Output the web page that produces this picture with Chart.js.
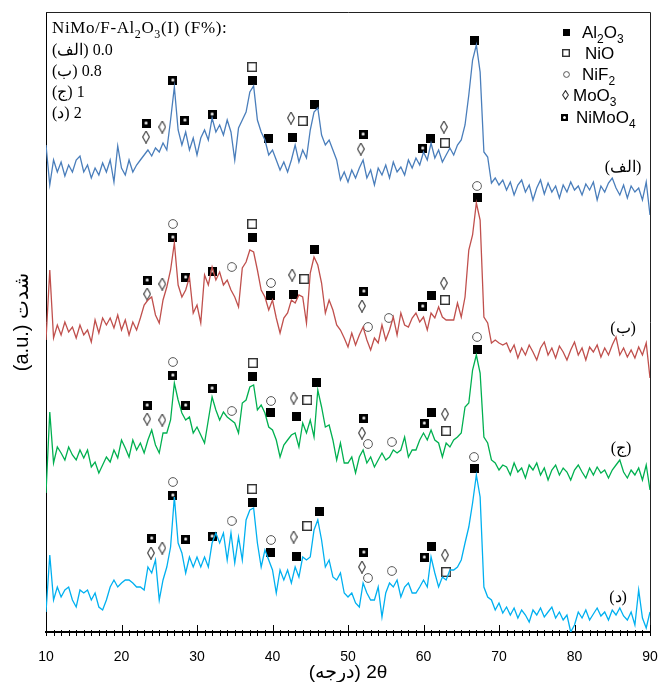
<!DOCTYPE html>
<html><head><meta charset="utf-8">
<script src="https://cdn.jsdelivr.net/npm/chart.js@4"></script>
<style>html,body{margin:0;padding:0;background:#fff}canvas{display:block}</style>
</head><body>
<canvas id="c" width="658" height="682"></canvas>
<script>
// ---- data (2θ grid in degrees, intensities in arbitrary stacked units) ----
const twoTheta = [
10,10.5,11,11.5,12,12.5,13,13.5,14,14.5,15,15.5,16,16.5,17,17.5,18,18.5,19,19.5,
20,20.5,21,21.5,22,22.5,23,23.5,24,24.5,25,25.5,26,26.5,27,27.5,28,28.5,29,29.5,
30,30.5,31,31.5,32,32.5,33,33.5,34,34.5,35,35.5,36,36.5,37,37.5,38,38.5,39,39.5,
40,40.5,41,41.5,42,42.5,43,43.5,44,44.5,45,45.5,46,46.5,47,47.5,48,48.5,49,49.5,
50,50.5,51,51.5,52,52.5,53,53.5,54,54.5,55,55.5,56,56.5,57,57.5,58,58.5,59,59.5,
60,60.5,61,61.5,62,62.5,63,63.5,64,64.5,65,65.5,66,66.5,67,67.5,68,68.5,69,69.5,
70,70.5,71,71.5,72,72.5,73,73.5,74,74.5,75,75.5,76,76.5,77,77.5,78,78.5,79,79.5,
80,80.5,81,81.5,82,82.5,83,83.5,84,84.5,85,85.5,86,86.5,87,87.5,88,88.5,89,89.5,90];

const intensityA = [ // (الف) 0.0
487,447,472,460,470,456,467,460,472,476, 460,467,454,464,457,469,460,472,450,486,
464,457,472,460,467,472,477,482,476,484, 480,489,482,512,545,502,487,500,482,494,
477,494,502,492,514,500,507,497,512,500, 472,504,512,520,540,546,512,500,492,477,
482,472,462,470,460,472,487,470,482,474, 502,520,524,497,487,492,482,472,452,460,
450,462,454,464,472,454,462,447,464,457, 467,454,470,460,465,457,472,464,474,467,
480,472,489,474,482,470,477,484,477,487, 492,507,537,572,587,560,480,475,449,454,
447,452,442,450,437,447,452,440,447,432, 444,452,438,449,440,446,434,447,440,450,
442,446,437,448,442,450,432,446,440,449, 454,444,437,447,434,446,440,444,432,450, 417];

const intensityB = [ // (ب) 0.8
292,362,294,307,297,310,300,305,294,307, 297,302,290,312,299,314,307,314,304,317,
302,312,297,310,302,314,327,332,335,317, 309,332,345,362,389,347,335,342,355,319,
327,309,357,347,365,352,360,347,352,342, 335,325,364,370,382,380,362,342,335,322,
332,314,299,314,319,332,329,337,335,309, 359,375,367,349,319,332,322,307,302,294,
285,299,287,297,305,292,282,294,289,307, 292,302,315,297,319,307,305,314,319,310,
315,302,319,314,325,315,312,312,312,329, 315,335,382,397,429,412,315,309,289,292,
289,287,289,280,287,274,284,277,287,280, 272,284,290,277,284,274,286,280,272,282,
290,277,284,272,285,280,287,275,284,277, 287,295,277,284,275,282,274,285,277,289, 254];

const intensityC = [ // (ج) 1
139,220,169,185,179,172,185,177,172,182, 174,182,165,170,159,167,175,170,182,174,
192,184,175,192,182,189,179,192,202,187, 179,199,199,212,249,232,219,212,215,199,
205,197,189,212,235,222,212,220,215,212, 209,199,229,232,245,247,222,227,219,205,
202,192,175,187,192,197,199,185,209,199, 212,195,242,225,205,207,192,172,189,169,
169,175,159,175,182,169,175,165,172,179, 172,175,182,179,182,195,175,182,182,192,
199,192,202,192,189,175,189,185,192,195, 199,225,229,262,277,259,195,189,172,169,
162,167,165,157,169,160,164,154,167,162, 169,157,164,152,162,167,157,164,160,152,
162,167,160,154,164,157,165,159,162,154, 162,167,172,160,154,162,157,164,152,167, 142];

const intensityD = [ // (د) 2
20,77,32,45,35,42,45,32,25,42, 39,42,32,39,25,22,32,45,52,45,
49,52,52,49,45,45,42,65,59,72, 32,52,65,85,135,89,79,59,75,65,
75,65,75,65,89,99,89,99,72,99, 69,95,72,112,122,124,89,65,82,72,
62,39,62,52,62,49,65,55,75,72, 75,102,112,92,65,72,55,52,59,39,
35,39,29,25,49,39,32,32,45,15, 39,49,45,52,35,45,49,39,39,45,
52,45,75,59,45,55,52,62,62,65, 72,89,105,129,157,135,45,35,32,22,
29,19,25,17,24,14,22,17,10,22, 17,24,15,20,25,14,20,12,17,0,
7,20,14,22,12,18,24,16,20,12, 22,17,24,16,12,20,7,42,14,4, 20];

const seriesNames = ['(الف)', '(ب)', '(ج)', '(د)'];
const fractionLabels = ['0.0', '0.8', '1', '2'];
const xTicks = [10, 20, 30, 40, 50, 60, 70, 80, 90];
const xTitle = '(درجه) 2θ';
const yTitle = '(a.u.) شدت';

// phase markers: 2θ and intensity position of each symbol
const al2o3Theta = [37.3,39.5,42.7,45.5,60.9,66.7, 37.4,39.7,42.8,45.6,61.0,67.1, 37.4,39.7,43.2,45.8,61.0,67.1, 37.4,39.7,43.2,46.2,61.0,66.7];
const al2o3Int   = [552,494,495,528,494,592, 395,337,338,383,337,435, 256,220,216,250,220,283, 130,80,76,121,86,164];
const nioTheta = [37.3,44.0,62.85, 37.3,44.2,62.85, 37.4,44.6,63.0, 37.3,44.6,63.0];
const nioInt   = [565,511,489, 408,353,332, 269,232,201, 143,106,60];
const nif2Theta = [26.8,34.6,39.8,52.65,55.4,67.1, 26.8,34.6,39.8,52.65,55.8,67.1, 26.8,34.6,39.8,52.65,55.8,66.7];
const nif2Int   = [408,365,349,305,314,446, 270,221,231,188,190,295, 150,111,92,54,61,175];
const moo3Theta = [23.25,25.4,42.45,51.7,62.7, 23.4,25.4,42.6,51.85,62.7, 23.4,25.4,42.8,51.85,62.85, 23.9,25.4,42.8,51.85,62.85];
const moo3Int   = [495,505,514,483,505, 338,348,357,326,349, 213,212,234,199,218, 79,84,95,65,77];
const nimoo4Theta = [23.25,26.8,28.4,32.0,52.0,59.9, 23.4,26.8,28.5,32.0,52.1,59.9, 23.4,26.8,28.5,32.0,52.1,60.1, 24.0,26.8,28.5,32.0,52.1,60.1];
const nimoo4Int   = [509,552,512,518,498,484, 352,395,355,361,341,326, 227,257,227,244,214,209, 94,137,93,96,80,75];

// ---- styling ----
const SANS = '"Liberation Sans", Arial, "DejaVu Sans", sans-serif';
const SERIF = '"Liberation Serif", "Times New Roman", "DejaVu Serif", serif';
const lineColors = ['#4a7ebb', '#c0504d', '#00b050', '#00b0f0'];

function mk(w, h, draw) { const c = document.createElement('canvas'); c.width = w; c.height = h; draw(c.getContext('2d'), w, h); return c; }
const symFilled = s => mk(s, s, g => { g.fillStyle = '#000'; g.fillRect(0, 0, s, s); });
const symOpen = s => mk(s, s, g => { g.strokeStyle = '#333'; g.lineWidth = 1.4; g.strokeRect(0.7, 0.7, s - 1.4, s - 1.4); });
const symCircle = d => mk(d, d, g => { g.strokeStyle = '#555'; g.lineWidth = 1; g.beginPath(); g.arc(d / 2, d / 2, d / 2 - 0.6, 0, Math.PI * 2); g.stroke(); });
const symDiamond = (w, h) => mk(w, h, g => { g.strokeStyle = '#333'; g.lineWidth = 1.1; g.beginPath(); g.moveTo(w / 2, 0.6); g.lineTo(w - 0.6, h / 2); g.lineTo(w / 2, h - 0.6); g.lineTo(0.6, h / 2); g.closePath(); g.stroke(); });
const symNiMoO4 = s => mk(s, s, g => { g.fillStyle = '#000'; g.fillRect(0, 0, s, s); g.fillStyle = '#fff'; g.beginPath(); g.arc(s / 2, s / 2, 1.5, 0, Math.PI * 2); g.fill(); });

const mFilled = symFilled(9), mOpen = symOpen(10), mCircle = symCircle(10), mDiamond = symDiamond(8, 13), mNiMoO4 = symNiMoO4(9);
const lFilled = symFilled(7), lOpen = symOpen(8), lCircle = symCircle(7), lDiamond = symDiamond(7, 10), lNiMoO4 = symNiMoO4(7);

const traceSets = [intensityA, intensityB, intensityC, intensityD].map((arr, i) => ({
  data: twoTheta.map((t, k) => ({ x: t, y: arr[k] })),
  showLine: true, borderColor: lineColors[i], borderWidth: 1.3, pointRadius: 0, tension: 0, fill: false
}));
function markerSet(th, it, img) {
  return { data: th.map((t, k) => ({ x: t, y: it[k] })), showLine: false, pointStyle: img, pointRadius: 4, pointHoverRadius: 4 };
}
const markerSets = [
  markerSet(al2o3Theta, al2o3Int, mFilled),
  markerSet(nioTheta, nioInt, mOpen),
  markerSet(nif2Theta, nif2Int, mCircle),
  markerSet(moo3Theta, moo3Int, mDiamond),
  markerSet(nimoo4Theta, nimoo4Int, mNiMoO4)
];

function drawRich(ctx, parts, x, y, size, family) {
  let cx = x;
  for (const [t, sub] of parts) {
    const fs = sub ? Math.round(size * 0.7) : size;
    ctx.font = fs + 'px ' + family;
    ctx.fillText(t, cx, sub ? y + size * 0.28 : y);
    cx += ctx.measureText(t).width;
  }
}

const legendRows = [
  { img: lFilled, parts: [['Al', 0], ['2', 1], ['O', 0], ['3', 1]] },
  { img: lOpen, parts: [['NiO', 0]] },
  { img: lCircle, parts: [['NiF', 0], ['2', 1]] },
  { img: lDiamond, parts: [['MoO', 0], ['3', 1]] },
  { img: lNiMoO4, parts: [['NiMoO', 0], ['4', 1]] }
];

const decor = {
  id: 'decor',
  afterDraw(chart) {
    const { ctx, chartArea: a, scales: { x } } = chart;
    ctx.save();
    // frame top and right
    ctx.strokeStyle = '#222'; ctx.lineWidth = 1;
    ctx.beginPath();
    ctx.moveTo(a.left, a.top + 0.5); ctx.lineTo(a.right + 0.5, a.top + 0.5); ctx.lineTo(a.right + 0.5, a.bottom);
    ctx.stroke();
    // ticks (minor every 1°, major every 10°)
    ctx.strokeStyle = '#000';
    ctx.beginPath();
    for (let v = 10; v <= 90; v++) {
      const px = Math.round(x.getPixelForValue(v)) + 0.5;
      if (v % 10 === 0) { ctx.moveTo(px, a.bottom - 7); ctx.lineTo(px, a.bottom + 4); }
      else { ctx.moveTo(px, a.bottom - 2); ctx.lineTo(px, a.bottom + 4); }
    }
    ctx.stroke();
    // tick labels
    ctx.fillStyle = '#000';
    ctx.textAlign = 'center'; ctx.textBaseline = 'middle';
    ctx.font = '14px ' + SANS;
    xTicks.forEach(v => ctx.fillText(String(v), x.getPixelForValue(v), a.bottom + 25));
    // axis titles
    ctx.font = '19px ' + SANS;
    ctx.fillText(xTitle, (a.left + a.right) / 2, a.bottom + 41);
    ctx.save();
    ctx.translate(22, (a.top + a.bottom) / 2);
    ctx.rotate(-Math.PI / 2);
    ctx.font = '20px ' + SANS;
    ctx.fillText(yTitle, 0, 0);
    ctx.restore();
    // top-left sample text
    ctx.textAlign = 'left'; ctx.textBaseline = 'alphabetic';
    ctx.letterSpacing = '0.6px';
    drawRich(ctx, [['NiMo/F-Al', 0], ['2', 1], ['O', 0], ['3', 1], ['(I) (F%):', 0]], 52, 33, 17, SERIF);
    ctx.letterSpacing = '0px';
    ctx.font = '16px ' + SERIF;
    const baseLines = [55, 76, 97, 118];
    seriesNames.forEach((n, i) => ctx.fillText(n + ' ' + fractionLabels[i], 52, baseLines[i]));
    // trace labels at right
    ctx.textAlign = 'center'; ctx.textBaseline = 'middle';
    const labPos = [[623, 168], [623, 329], [621, 449], [618, 598]];
    seriesNames.forEach((n, i) => ctx.fillText(n, labPos[i][0], labPos[i][1]));
    // legend
    ctx.textAlign = 'left'; ctx.textBaseline = 'alphabetic';
    const rowsY = [32, 53, 74, 95, 117];
    const symX = [566, 566, 566, 565, 564];
    const txtX = [582, 585, 582, 573, 576];
    legendRows.forEach((r, i) => {
      ctx.drawImage(r.img, Math.round(symX[i] - r.img.width / 2), Math.round(rowsY[i] - r.img.height / 2));
      drawRich(ctx, r.parts, txtX[i], rowsY[i] + 6, 17, SANS);
    });
    ctx.restore();
  }
};

new Chart(document.getElementById('c'), {
  type: 'scatter',
  data: { datasets: [...traceSets, ...markerSets] },
  options: {
    responsive: false, animation: false, devicePixelRatio: 1, events: [],
    layout: { padding: { left: 46, right: 8, top: 12, bottom: 50 } },
    plugins: { legend: { display: false }, tooltip: { enabled: false }, title: { display: false } },
    scales: {
      x: {
        type: 'linear', min: 10, max: 90,
        afterBuildTicks: s => { s.ticks = xTicks.map(v => ({ value: v })); },
        ticks: { display: false },
        grid: { display: false, drawTicks: false },
        border: { display: true, color: '#000', width: 2 },
        title: { display: false }
      },
      y: {
        type: 'linear', min: 0, max: 620,
        ticks: { display: false },
        grid: { display: false, drawTicks: false },
        border: { display: true, color: '#000', width: 1 },
        title: { display: false }
      }
    }
  },
  plugins: [decor]
});
</script>
</body></html>
